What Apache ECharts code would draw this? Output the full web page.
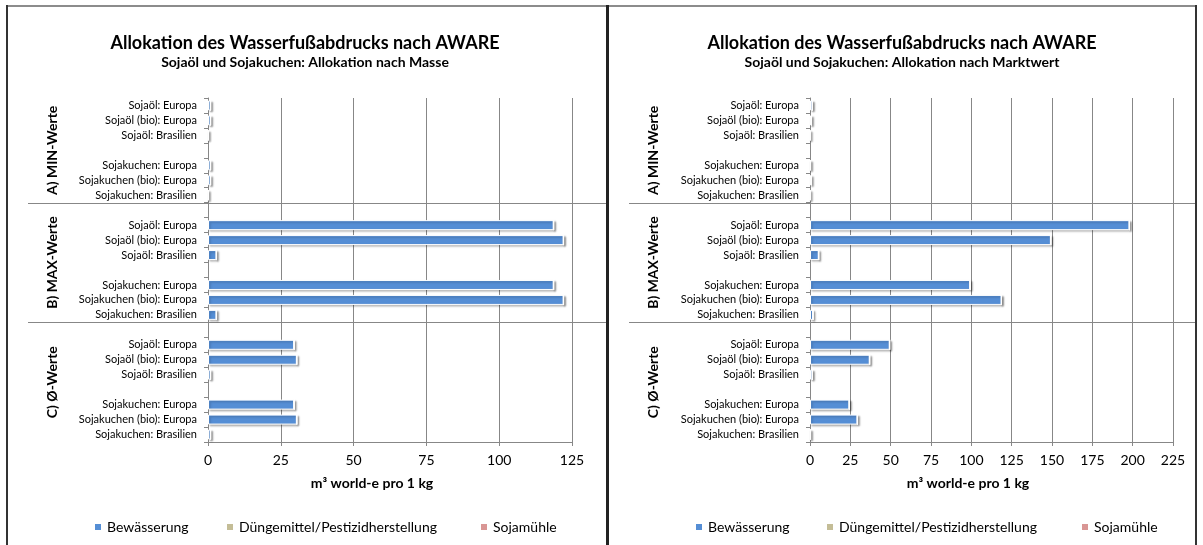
<!DOCTYPE html>
<html><head><meta charset="utf-8">
<script src="https://cdn.jsdelivr.net/npm/echarts@6/dist/echarts.min.js"></script>
<style>html,body{margin:0;padding:0;background:#fff}#c{width:1203px;height:545px}</style>
</head><body><div id="c"></div>
<script>
// ---- data ----
const itemLabels = ['Sojaöl: Europa','Sojaöl (bio): Europa','Sojaöl: Brasilien','Sojakuchen: Europa','Sojakuchen (bio): Europa','Sojakuchen: Brasilien'];
const groupLabels = ['A) MIN-Werte','B) MAX-Werte','C) Ø-Werte'];
const seriesNames = ['Bewässerung','Düngemittel/Pestizidherstellung','Sojamühle'];
const seriesColors = ['#558ED5','#C4BD97','#D99694'];
const titleMain = 'Allokation des Wasserfußabdrucks nach AWARE';
const subMasse = 'Sojaöl und Sojakuchen: Allokation nach Masse';
const subMarkt = 'Sojaöl und Sojakuchen: Allokation nach Marktwert';
const axisTitle = 'm³ world-e pro 1 kg';
const ticksMasse = [0,25,50,75,100,125];
const ticksMarkt = [0,25,50,75,100,125,150,175,200,225];

// Masse (left)
const masseMinBew = [0.9,0.9,0.1,0.9,0.9,0.1];
const masseMaxBew = [118.7,122.1,2.9,118.7,122.1,2.9];
const masseAvgBew = [29.6,30.5,0.9,29.6,30.5,0.9];
const masseMinDue = [0,0,0,0,0,0];
const masseMaxDue = [0,0,0,0,0,0];
const masseAvgDue = [0,0,0,0,0,0];
const masseMinMuehle = [0,0,0,0,0,0];
const masseMaxMuehle = [0,0,0,0,0,0];
const masseAvgMuehle = [0,0,0,0,0,0];
// Marktwert (right)
const marktMinBew = [1.5,0.9,0.1,0.3,0.8,0.1];
const marktMaxBew = [198,149.3,5.4,99.3,118.7,1.9];
const marktAvgBew = [49.4,37,1.5,24.4,29.4,0.3];
const marktMinDue = [0,0,0,0,0,0];
const marktMaxDue = [0,0,0,0,0,0];
const marktAvgDue = [0,0,0,0,0,0];
const marktMinMuehle = [0,0,0,0,0,0];
const marktMaxMuehle = [0,0,0,0,0,0];
const marktAvgMuehle = [0,0,0,0,0,0];

// ---- layout of the category slots: group items, blank between sub-groups and groups ----
function slotsOf(groups){ // groups: [min,max,avg], each 6 values
  const out=[];
  groups.forEach((g,gi)=>{
    if(gi>0) out.push(null);
    out.push(g[0],g[1],g[2],null,g[3],g[4],g[5]);
  });
  return out;
}
const slotLabels = slotsOf([itemLabels,itemLabels,itemLabels]).map(v=>v===null?'':v);
const slotKeys = slotLabels.map((_,i)=>'s'+i);
const groupSlots = [[0,6],[7,14],[15,22]];

const FONT = 'Lato, "Open Sans", sans-serif';
const gridCfg = [
  {left:208, top:98, width:364, height:344},
  {left:810, top:98, width:363, height:344}
];
const xMax = [125,225];

const dataSets = [
  [slotsOf([masseMinBew,masseMaxBew,masseAvgBew]), slotsOf([masseMinDue,masseMaxDue,masseAvgDue]), slotsOf([masseMinMuehle,masseMaxMuehle,masseAvgMuehle])],
  [slotsOf([marktMinBew,marktMaxBew,marktAvgBew]), slotsOf([marktMinDue,marktMaxDue,marktAvgDue]), slotsOf([marktMinMuehle,marktMaxMuehle,marktAvgMuehle])]
];

const series=[];
[0,1].forEach(ci=>{
  seriesNames.forEach((n,si)=>{
    series.push({
      type:'bar', name:n, xAxisIndex:ci, yAxisIndex:ci, stack:'s'+ci,
      barWidth:10,
      data:dataSets[ci][si],
      itemStyle:{color:seriesColors[si], borderColor:'#fff', borderWidth:1,
        shadowColor:'rgba(0,0,0,0.25)', shadowBlur:2, shadowOffsetX:1.5, shadowOffsetY:1.5},
      emphasis:{disabled:true}
    });
  });
});

const legendLefts = [[88,220,474],[689,820,1075]];
const legends=[];
[0,1].forEach(ci=>{
  seriesNames.forEach((n,si)=>{
    legends.push({
      data:[n], left:legendLefts[ci][si], top:515, icon:'rect', itemWidth:8, itemHeight:8, itemGap:4,
      textStyle:{fontFamily:FONT,fontSize:14,color:'#000', padding:[0,0,0,0]},
      selectedMode:false
    });
  });
});

const option = {
  animation:false,
  textStyle:{fontFamily:FONT},
  grid:gridCfg,
  legend:legends,
  xAxis:[0,1].map(ci=>({
    type:'value', gridIndex:ci, min:0, max:xMax[ci], interval:25,
    axisLine:{show:true,lineStyle:{color:'#878787'}},
    axisTick:{show:true,length:4,lineStyle:{color:'#878787'}},
    splitLine:{show:true,lineStyle:{color:'#878787',width:1}},
    axisLabel:{fontFamily:FONT,fontSize:14,color:'#000',margin:11, showMaxLabel:true}
  })),
  yAxis:[0,1].map(ci=>({
    type:'category', gridIndex:ci, inverse:true, data:slotKeys,
    axisLine:{show:true,lineStyle:{color:'#878787'}},
    axisTick:{show:true,length:4,interval:0,lineStyle:{color:'#878787'}},
    axisLabel:{fontFamily:FONT,fontSize:11,color:'#000',margin:11,interval:0,
      formatter:(v,i)=>slotLabels[i]}
  })),
  series:series
};

const chart = echarts.init(document.getElementById('c'));
chart.setOption(option);

// ---- decorations positioned through the axes ----
const g=[];
// panel frames
g.push({type:'line',shape:{x1:6,y1:6,x2:1197,y2:6},style:{stroke:'#8c8c8c',lineWidth:2}});
g.push({type:'line',shape:{x1:7,y1:5,x2:7,y2:545},style:{stroke:'#333',lineWidth:2}});
g.push({type:'line',shape:{x1:607.5,y1:5,x2:607.5,y2:545},style:{stroke:'#222',lineWidth:3}});
g.push({type:'line',shape:{x1:1196,y1:5,x2:1196,y2:545},style:{stroke:'#333',lineWidth:2}});

const panelCenter=[305,902];
const subs=[subMasse,subMarkt];
const axisTitleX=[372,968];
const dividerSpan=[[28,606],[629,1195]];
const groupLabelX=[52,653];
[0,1].forEach(ci=>{
  g.push({type:'text',x:panelCenter[ci],y:43,style:{text:titleMain,font:'bold 18px '+FONT,fill:'#000',align:'center',verticalAlign:'middle'}});
  g.push({type:'text',x:panelCenter[ci],y:62,style:{text:subs[ci],font:'bold 14px '+FONT,fill:'#000',align:'center',verticalAlign:'middle'}});
  g.push({type:'text',x:axisTitleX[ci],y:483,style:{text:axisTitle,font:'bold 14px '+FONT,fill:'#000',align:'center',verticalAlign:'middle'}});
  const yp = i=>chart.convertToPixel({yAxisIndex:ci}, i);
  // dividers between groups (between last slot of a group and first slot of next)
  for(let k=1;k<groupSlots.length;k++){
    const a=yp(groupSlots[k][0]-1), b=yp(groupSlots[k][0]);
    const y=Math.round((a+b)/2)+0.5;
    g.push({type:'line',shape:{x1:dividerSpan[ci][0],y1:y,x2:dividerSpan[ci][1],y2:y},style:{stroke:'#878787',lineWidth:1}});
  }
  groupSlots.forEach((s,k)=>{
    const y=(yp(s[0])+yp(s[1]))/2;
    g.push({type:'text',x:groupLabelX[ci],y:y,rotation:Math.PI/2,
      style:{text:groupLabels[k],font:'bold 14px '+FONT,fill:'#000',align:'center',verticalAlign:'middle'}});
  });
});
chart.setOption({graphic:g});
</script>
</body></html>
